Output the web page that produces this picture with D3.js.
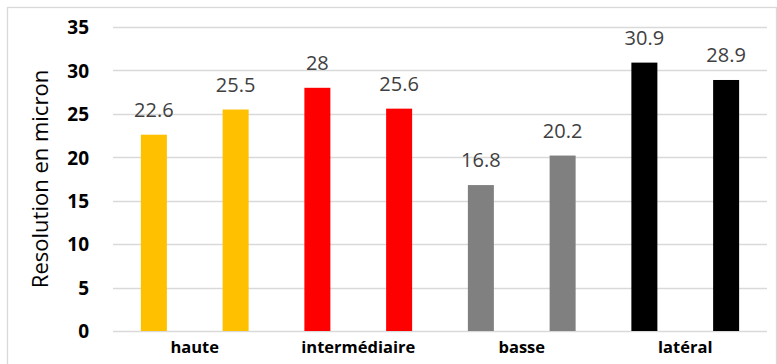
<!DOCTYPE html>
<html>
<head>
<meta charset="utf-8">
<script src="https://cdn.jsdelivr.net/npm/d3@7"></script>
<style>
  body { margin: 0; background: #fff; }
  svg { display: block; }
</style>
</head>
<body>
<div id="chart"></div>
<script>
// data
const categories = ["haute", "intermédiaire", "basse", "latéral"];
const series1 = [22.6, 28, 16.8, 30.9];
const series2 = [25.5, 25.6, 20.2, 28.9];
const barColors = ["#FFC000", "#FF0000", "#808080", "#000000"];
const yTicks = [0, 5, 10, 15, 20, 25, 30, 35];

const width = 777;
const height = 364;
const margin = { top: 27, right: 10, bottom: 33, left: 113 };

const svg = d3.select("#chart").append("svg")
    .attr("width", width)
    .attr("height", height);

// outer border
svg.append("rect")
    .attr("x", 7.5).attr("y", 7.5)
    .attr("width", 769).attr("height", 362)
    .attr("fill", "none")
    .attr("stroke", "#d9d9d9")
    .attr("stroke-width", 1.3);

// scales
const x0 = d3.scaleBand()
    .domain(categories)
    .range([margin.left, width - margin.right]);

const x1 = d3.scaleBand()
    .domain([0, 1])
    .range([0, x0.bandwidth()])
    .paddingInner(0.682)
    .paddingOuter(0.341);

const y = d3.scaleLinear()
    .domain([0, 35])
    .range([height - margin.bottom, margin.top]);

// gridlines
svg.append("g")
    .selectAll("line")
    .data(yTicks)
    .enter().append("line")
    .attr("x1", margin.left)
    .attr("x2", width - margin.right)
    .attr("y1", d => Math.round(y(d)) + 0.5)
    .attr("y2", d => Math.round(y(d)) + 0.5)
    .attr("stroke", "#d9d9d9")
    .attr("stroke-width", 1.3);

// y axis labels
const yAxis = d3.axisLeft(y).tickValues(yTicks).tickSize(0).tickPadding(0);
const yg = svg.append("g")
    .attr("transform", "translate(89,0)")
    .call(yAxis);
yg.select(".domain").remove();
yg.selectAll("text")
    .style("font-family", "'Open Sans', sans-serif")
    .style("font-size", "19px")
    .style("font-weight", "bold")
    .attr("fill", "#000")
    .attr("dy", "0.36em");

// y title
svg.append("text")
    .attr("transform", "translate(48," + 179 + ") rotate(-90)")
    .attr("text-anchor", "middle")
    .style("font-family", "'Open Sans', sans-serif")
    .style("font-size", "22px")
    .attr("fill", "#000")
    .text("Resolution en micron");

// bars
const rows = [];
categories.forEach((c, i) => {
    rows.push({ cat: c, s: 0, v: series1[i], color: barColors[i] });
    rows.push({ cat: c, s: 1, v: series2[i], color: barColors[i] });
});

svg.append("g")
    .selectAll("rect")
    .data(rows)
    .enter().append("rect")
    .attr("x", d => x0(d.cat) + x1(d.s))
    .attr("width", x1.bandwidth())
    .attr("y", d => y(d.v))
    .attr("height", d => y(0) - y(d.v))
    .attr("fill", d => d.color);

// value labels
svg.append("g")
    .selectAll("text")
    .data(rows)
    .enter().append("text")
    .attr("x", d => x0(d.cat) + x1(d.s) + x1.bandwidth() / 2)
    .attr("y", d => y(d.v) - 18)
    .attr("text-anchor", "middle")
    .style("font-family", "'Open Sans', sans-serif")
    .style("font-size", "20px")
    .attr("fill", "#404040")
    .text(d => d.v);

// category labels
const xAxis = d3.axisBottom(x0).tickSize(0).tickPadding(0);
const xg = svg.append("g")
    .attr("transform", "translate(0," + (height - margin.bottom) + ")")
    .call(xAxis);
xg.select(".domain").remove();
xg.selectAll("text")
    .attr("dy", null)
    .attr("y", 22)
    .style("font-family", "'Open Sans', sans-serif")
    .style("font-size", "16.5px")
    .style("font-weight", "bold")
    .attr("fill", "#000");
</script>
</body>
</html>
